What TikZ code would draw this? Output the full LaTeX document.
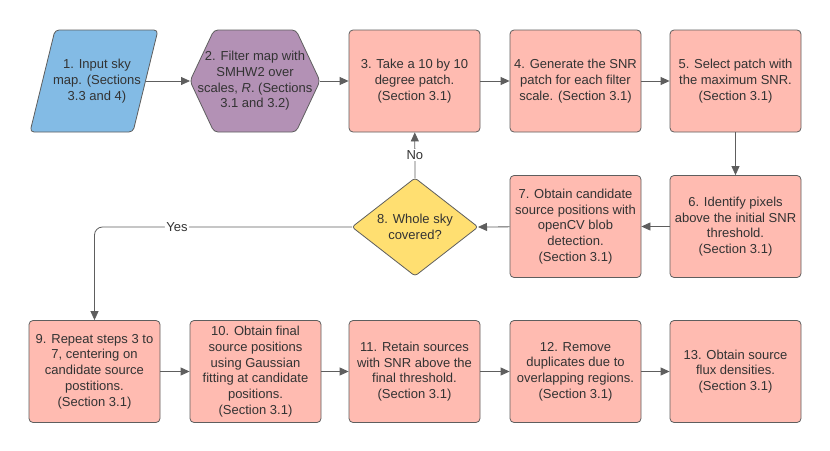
\documentclass[tikz,border=0pt]{standalone}
\usepackage{fontspec}
\setmainfont{Liberation Sans}
\usetikzlibrary{arrows.meta}
\definecolor{pinkfill}{HTML}{FFBBB1}
\definecolor{bluefill}{HTML}{83BBE5}
\definecolor{purplefill}{HTML}{B391B5}
\definecolor{yellowfill}{HTML}{FFDF71}
\definecolor{edgegray}{HTML}{5E5E5E}
\definecolor{txt}{HTML}{333333}
\begin{document}
\begin{tikzpicture}[x=1pt,y=-1pt,
  font=\fontsize{13}{15.7}\selectfont,
  every node/.style={text=txt},
  stepbox/.style={draw=edgegray, fill=pinkfill, rounded corners=4pt, minimum width=131pt, minimum height=102pt, align=center, inner sep=0pt, line width=0.8pt},
  shapeline/.style={draw=edgegray, line width=0.8pt, rounded corners=4pt},
  plain/.style={align=center, inner sep=0pt},
  arr/.style={draw=edgegray, line width=0.8pt, -{Triangle[length=9pt,width=8pt]}},
  lbl/.style={fill=white, inner sep=1.5pt}]
\useasboundingbox (0,0) rectangle (830,450);

% 1. parallelogram
\draw[shapeline, fill=bluefill] (55,30) -- (158,30) -- (133,132) -- (30,132) -- cycle;
\node[plain] (n1) at (97,81) {1. Input sky\\map. (Sections\\3.3 and 4)};
\coordinate (p1e) at (145.5,81);

% 2. hexagon
\draw[shapeline, fill=purplefill] (190,81) -- (214,30) -- (296,30) -- (320,81) -- (296,132) -- (214,132) -- cycle;
\node[plain] (n2) at (255,81) {2. Filter map with\\SMHW2 over\\scales, \textit{R}. (Sections\\3.1 and 3.2)};
\coordinate (h2w) at (190,81);
\coordinate (h2e) at (320,81);

% top row boxes
\node[stepbox] (n3) at (414.5,81) {3. Take a 10 by 10\\degree patch.\\(Section 3.1)};
\node[stepbox] (n4) at (575.5,81) {4. Generate the SNR\\patch for each filter\\scale. (Section 3.1)};
\node[stepbox] (n5) at (735.5,81) {5. Select patch with\\the maximum SNR.\\(Section 3.1)};

% middle row
\node[stepbox] (n6) at (735.5,226.5) {6. Identify pixels\\above the initial SNR\\threshold.\\(Section 3.1)};
\node[stepbox] (n7) at (575.5,226.5) {7. Obtain candidate\\source positions with\\openCV blob\\detection.\\(Section 3.1)};

% 8. diamond
\draw[shapeline, rounded corners=3pt, fill=yellowfill] (352,227) -- (415,178) -- (478,227) -- (415,276) -- cycle;
\node[plain] (n8) at (415,227) {8. Whole sky\\covered?};
\coordinate (d8w) at (352,227);
\coordinate (d8n) at (415,178);
\coordinate (d8e) at (478,227);

% bottom row
\node[stepbox] (n9) at (94.5,371.5) {9. Repeat steps 3 to\\7, centering on\\candidate source\\postitions.\\(Section 3.1)};
\node[stepbox] (n10) at (255.5,371.5) {10. Obtain final\\source positions\\using Gaussian\\fitting at candidate\\positions.\\(Section 3.1)};
\node[stepbox] (n11) at (414.5,371.5) {11. Retain sources\\with SNR above the\\final threshold.\\(Section 3.1)};
\node[stepbox] (n12) at (575.5,371.5) {12. Remove\\duplicates due to\\overlapping regions.\\(Section 3.1)};
\node[stepbox] (n13) at (735.5,371.5) {13. Obtain source\\flux densities.\\(Section 3.1)};

% connectors
\draw[arr] (p1e) -- (h2w);
\draw[arr] (h2e) -- (n3);
\draw[arr] (n3) -- (n4);
\draw[arr] (n4) -- (n5);
\draw[arr] (n5) -- (n6);
\draw[arr] (n6) -- (n7);
\draw[arr] (n7) -- (d8e);
\draw[arr] (d8n) -- node[lbl, pos=0.5] (lno) {No} (n3);
\draw[arr, rounded corners=8pt] (d8w) -- node[lbl, pos=0.68] (lyes) {Yes} (n9 |- d8w) -- (n9);
\draw[arr] (n9) -- (n10);
\draw[arr] (n10) -- (n11);
\draw[arr] (n11) -- (n12);
\draw[arr] (n12) -- (n13);
\end{tikzpicture}
\end{document}
